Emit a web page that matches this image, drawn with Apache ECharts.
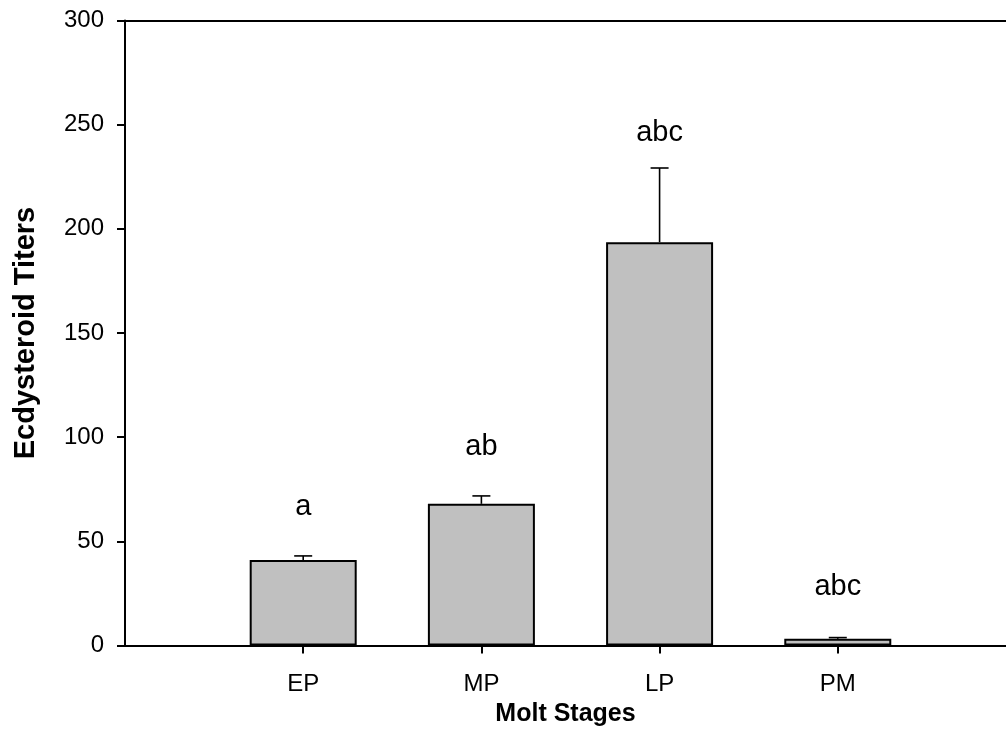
<!DOCTYPE html>
<html>
<head>
<meta charset="utf-8">
<script src="https://cdn.jsdelivr.net/npm/echarts@6/dist/echarts.min.js"></script>
<style>
  html, body { margin: 0; padding: 0; background: #fff; }
  #chart { width: 1006px; height: 754px; }
</style>
</head>
<body>
<div id="chart"></div>
<script>
// Molt stages and mean ecdysteroid titers with upper error (mean + SE)
const stages = ['EP', 'MP', 'LP', 'PM'];
const titerMean = [41, 68, 193.6, 3.2];
const titerUpper = [43, 71.8, 229.2, 3.8];
// significance letters and the titer level each letter is centred on
const sigLetters = ['a', 'ab', 'abc', 'abc'];
const letterAt = [66.5, 95.5, 246, 28];
const yTicks = [0, 50, 100, 150, 200, 250, 300];

const FONT = 'Liberation Sans, Arial, sans-serif';
const pos = stages.map((s, i) => i + 1);
// the stage axis runs on past the right edge of the frame
const xMax = 4.944;

const chart = echarts.init(document.getElementById('chart'), null, { renderer: 'canvas' });

chart.setOption({
  animation: false,
  backgroundColor: '#ffffff',
  grid: { left: 125, top: 20.5, right: 0, height: 625 },
  xAxis: [{
    type: 'value', min: 0, max: xMax,
    name: 'Molt Stages', nameLocation: 'middle', nameGap: 55,
    nameTextStyle: { fontFamily: FONT, fontWeight: 'bold', fontSize: 25, color: '#000' },
    axisLine: { show: true, onZero: false, lineStyle: { color: '#000', width: 2 } },
    axisTick: { show: true, customValues: pos, length: 8, lineStyle: { color: '#000', width: 2 } },
    axisLabel: { customValues: pos, margin: 27, fontFamily: FONT, fontSize: 24, color: '#000',
      formatter: v => stages[Math.round(v) - 1] || '' },
    splitLine: { show: false }
  }, {
    // top frame line
    type: 'value', min: 0, max: xMax, position: 'top',
    axisLine: { show: true, onZero: false, lineStyle: { color: '#000', width: 2 } },
    axisTick: { show: false }, axisLabel: { show: false }, splitLine: { show: false }
  }],
  yAxis: {
    type: 'value', min: 0, max: 300, interval: 50,
    name: 'Ecdysteroid Titers', nameLocation: 'middle', nameGap: 85,
    nameTextStyle: { fontFamily: FONT, fontWeight: 'bold', fontSize: 29, color: '#000' },
    axisLine: { show: true, lineStyle: { color: '#000', width: 2 } },
    axisTick: { show: true, customValues: yTicks, length: 8, lineStyle: { color: '#000', width: 2 } },
    axisLabel: { customValues: yTicks, margin: 21, fontFamily: FONT, fontSize: 24, color: '#000' },
    splitLine: { show: false }
  },
  series: [{
    type: 'bar',
    barWidth: 107,
    data: pos.map((p, i) => [p, titerMean[i]]),
    itemStyle: { color: '#c0c0c0', borderColor: '#000', borderWidth: 2 },
    z: 2
  }, {
    type: 'custom',
    z: 3,
    data: pos.map((p, i) => [p, titerMean[i], titerUpper[i]]),
    renderItem: (params, api) => {
      const base = api.coord([api.value(0), api.value(1)]);
      const top = api.coord([api.value(0), api.value(2)]);
      const half = 9;
      return {
        type: 'group',
        children: [{
          type: 'line',
          shape: { x1: base[0], y1: base[1], x2: top[0], y2: top[1] },
          style: { stroke: '#000', lineWidth: 1.6 }
        }, {
          type: 'line',
          shape: { x1: top[0] - half, y1: top[1], x2: top[0] + half, y2: top[1] },
          style: { stroke: '#000', lineWidth: 1.6 }
        }]
      };
    }
  }, {
    type: 'custom',
    z: 4,
    data: pos.map((p, i) => [p, letterAt[i]]),
    renderItem: (params, api) => {
      const c = api.coord([api.value(0), api.value(1)]);
      return {
        type: 'text',
        style: {
          x: c[0], y: c[1], text: sigLetters[params.dataIndex],
          align: 'center', verticalAlign: 'middle',
          font: '29px ' + FONT, fill: '#000'
        }
      };
    }
  }]
});
</script>
</body>
</html>
